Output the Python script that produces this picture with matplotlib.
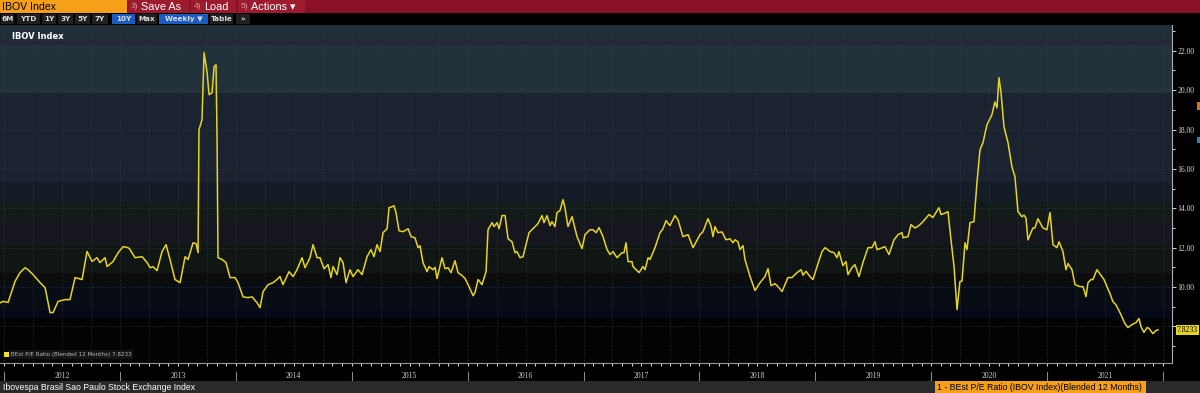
import numpy as np
import matplotlib
matplotlib.use('Agg')
import matplotlib.pyplot as plt
from matplotlib.patches import Rectangle
import matplotlib.transforms as mtransforms

# BEst P/E Ratio (Blended 12 Months), IBOV Index, weekly
dec_year = [2011.965, 2011.991, 2012.035, 2012.095, 2012.138, 2012.181, 2012.207, 2012.250, 2012.311, 2012.354,
            2012.397, 2012.423, 2012.466, 2012.526, 2012.569, 2012.613, 2012.673, 2012.716, 2012.759, 2012.802,
            2012.828, 2012.871, 2012.889, 2012.940, 2012.984, 2013.027, 2013.070, 2013.087, 2013.130, 2013.191,
            2013.234, 2013.260, 2013.286, 2013.320, 2013.363, 2013.398, 2013.432, 2013.475, 2013.519, 2013.562,
            2013.588, 2013.631, 2013.657, 2013.674, 2013.682, 2013.708, 2013.726, 2013.752, 2013.769, 2013.795,
            2013.812, 2013.829, 2013.838, 2013.846, 2013.881, 2013.915, 2013.950, 2013.993, 2014.019, 2014.062,
            2014.105, 2014.140, 2014.183, 2014.209, 2014.235, 2014.278, 2014.321, 2014.355, 2014.381, 2014.407,
            2014.459, 2014.494, 2014.528, 2014.571, 2014.597, 2014.640, 2014.666, 2014.701, 2014.726, 2014.761,
            2014.796, 2014.821, 2014.839, 2014.873, 2014.899, 2014.925, 2014.951, 2014.985, 2015.011, 2015.054,
            2015.089, 2015.132, 2015.166, 2015.192, 2015.218, 2015.244, 2015.270, 2015.305, 2015.322, 2015.348,
            2015.365, 2015.382, 2015.408, 2015.443, 2015.486, 2015.512, 2015.546, 2015.572, 2015.589, 2015.615,
            2015.650, 2015.667, 2015.701, 2015.719, 2015.736, 2015.779, 2015.805, 2015.831, 2015.857, 2015.891,
            2015.917, 2015.952, 2015.978, 2016.012, 2016.047, 2016.064, 2016.090, 2016.124, 2016.159, 2016.176,
            2016.211, 2016.228, 2016.254, 2016.271, 2016.297, 2016.323, 2016.349, 2016.383, 2016.409, 2016.426,
            2016.452, 2016.478, 2016.530, 2016.581, 2016.607, 2016.642, 2016.659, 2016.685, 2016.711, 2016.728,
            2016.754, 2016.771, 2016.797, 2016.823, 2016.840, 2016.866, 2016.901, 2016.944, 2016.987, 2017.013,
            2017.056, 2017.082, 2017.108, 2017.134, 2017.168, 2017.203, 2017.229, 2017.255, 2017.289, 2017.332,
            2017.349, 2017.367, 2017.384, 2017.418, 2017.427, 2017.479, 2017.513, 2017.531, 2017.557, 2017.574,
            2017.617, 2017.660, 2017.686, 2017.712, 2017.746, 2017.789, 2017.815, 2017.858, 2017.902, 2017.945,
            2018.005, 2018.031, 2018.074, 2018.100, 2018.117, 2018.134, 2018.160, 2018.195, 2018.229, 2018.264,
            2018.290, 2018.307, 2018.333, 2018.350, 2018.376, 2018.393, 2018.437, 2018.480, 2018.523, 2018.566,
            2018.592, 2018.618, 2018.652, 2018.678, 2018.713, 2018.738, 2018.764, 2018.799, 2018.842, 2018.877,
            2018.894, 2018.920, 2018.954, 2018.980, 2019.015, 2019.058, 2019.084, 2019.127, 2019.161, 2019.187,
            2019.204, 2019.238, 2019.265, 2019.282, 2019.316, 2019.342, 2019.377, 2019.411, 2019.455, 2019.489,
            2019.515, 2019.532, 2019.558, 2019.601, 2019.636, 2019.679, 2019.714, 2019.748, 2019.757, 2019.800,
            2019.826, 2019.860, 2019.877, 2019.903, 2019.929, 2019.981, 2020.015, 2020.041, 2020.067, 2020.085,
            2020.119, 2020.145, 2020.171, 2020.197, 2020.223, 2020.248, 2020.266, 2020.292, 2020.309, 2020.335,
            2020.369, 2020.395, 2020.421, 2020.447, 2020.481, 2020.524, 2020.550, 2020.568, 2020.585, 2020.602,
            2020.628, 2020.663, 2020.697, 2020.723, 2020.749, 2020.783, 2020.801, 2020.818, 2020.835, 2020.878,
            2020.895, 2020.921, 2020.964, 2020.999, 2021.025, 2021.051, 2021.085, 2021.103, 2021.137, 2021.163,
            2021.180, 2021.215, 2021.241, 2021.284, 2021.310, 2021.336, 2021.353, 2021.379, 2021.396, 2021.430,
            2021.448, 2021.491, 2021.517, 2021.543, 2021.568, 2021.594, 2021.629, 2021.672, 2021.698, 2021.732,
            2021.767, 2021.793, 2021.810, 2021.836, 2021.862, 2021.879, 2021.914, 2021.939, 2021.957]

pe_ratio = [9.19, 9.27, 9.22, 10.29, 10.73, 10.98, 10.88, 10.63, 10.22, 9.97,
            8.70, 8.70, 9.27, 9.36, 9.36, 10.48, 10.38, 11.81, 11.30, 11.49,
            11.24, 11.49, 11.04, 11.29, 11.74, 12.05, 12.00, 11.90, 11.49, 11.54,
            11.24, 10.98, 11.03, 10.83, 11.80, 12.15, 11.40, 10.38, 10.22, 11.54,
            11.40, 12.25, 12.20, 11.74, 17.99, 18.50, 21.90, 20.88, 19.77, 19.87,
            21.19, 21.29, 17.50, 11.49, 11.40, 11.24, 10.48, 10.48, 10.22, 9.50,
            9.46, 9.50, 9.20, 8.95, 9.77, 10.12, 10.22, 10.38, 10.53, 10.12,
            10.78, 10.53, 10.88, 11.49, 10.98, 11.49, 12.15, 11.49, 11.49, 10.93,
            11.14, 10.48, 11.04, 10.63, 11.49, 11.24, 10.22, 10.88, 10.53, 10.88,
            10.63, 11.54, 11.90, 11.54, 12.15, 11.80, 12.76, 12.96, 14.03, 14.08,
            14.13, 13.78, 12.86, 12.81, 12.96, 12.56, 12.50, 12.00, 12.10, 11.24,
            10.78, 11.04, 10.88, 11.00, 10.43, 11.49, 10.93, 10.98, 10.73, 11.34,
            10.73, 10.58, 10.43, 10.02, 9.56, 9.72, 10.38, 10.12, 10.78, 12.91,
            13.27, 13.07, 13.27, 12.96, 13.63, 13.63, 12.45, 12.30, 11.74, 11.80,
            11.49, 11.54, 12.76, 13.07, 13.22, 13.63, 13.27, 13.63, 13.12, 13.32,
            13.07, 13.78, 13.88, 14.44, 14.03, 13.07, 13.58, 12.56, 11.95, 12.66,
            12.91, 12.91, 12.76, 13.02, 12.56, 11.90, 11.65, 11.80, 11.49, 11.74,
            11.74, 12.25, 11.29, 11.29, 11.04, 10.73, 11.04, 10.88, 11.49, 11.40,
            12.00, 12.76, 12.96, 13.37, 13.12, 13.63, 13.42, 12.56, 12.66, 12.00,
            12.66, 12.81, 13.47, 13.10, 12.56, 13.07, 12.76, 12.80, 12.40, 12.45,
            12.25, 12.40, 12.30, 11.90, 12.10, 11.40, 10.53, 9.82, 10.22, 10.53,
            10.93, 10.07, 10.17, 10.02, 9.77, 10.12, 10.48, 10.48, 10.73, 10.88,
            10.60, 10.80, 10.53, 10.38, 11.04, 11.80, 12.00, 11.80, 11.75, 11.49,
            11.80, 11.09, 11.29, 10.63, 10.98, 11.14, 10.53, 11.24, 12.00, 12.00,
            12.30, 11.90, 11.95, 12.05, 11.65, 12.40, 12.66, 12.76, 12.50, 12.56,
            13.17, 13.00, 13.05, 13.17, 13.32, 13.68, 13.53, 13.78, 14.03, 13.68,
            13.75, 13.83, 12.40, 11.04, 8.85, 10.28, 10.30, 12.25, 11.90, 13.27,
            13.32, 15.30, 16.97, 17.33, 18.24, 18.75, 19.40, 19.10, 20.63, 19.92,
            18.14, 17.33, 16.10, 15.60, 13.83, 13.57, 13.65, 13.50, 12.40, 13.00,
            13.00, 13.47, 13.00, 12.91, 13.78, 12.15, 12.00, 12.30, 11.80, 10.88,
            11.19, 10.88, 10.12, 10.02, 10.02, 9.51, 10.22, 10.38, 10.38, 10.88,
            10.73, 10.38, 10.02, 9.66, 9.26, 9.10, 8.70, 8.14, 7.94, 8.09,
            8.19, 8.40, 7.99, 7.69, 7.94, 7.90, 7.63, 7.79, 7.8233]

last_value = 7.8233
years = list(range(2012, 2022))
y_ticks = [8, 10, 12, 14, 16, 18, 20, 22]

# background bands (value ranges) like the terminal chart
band_lo = [22.56, 22.30, 19.87, 15.35, 14.33, 13.31, 12.15, 10.73, 10.22, 8.85, 8.44, 6.0]
band_hi = [24.00, 22.56, 22.30, 19.87, 15.35, 14.33, 13.31, 12.15, 10.73, 10.22, 8.85, 8.44]
band_col = ['#222e37', '#242839', '#22323b', '#1b2330', '#151c27', '#131a1a',
            '#16161f', '#0f1613', '#0c0c0c', '#070c15', '#050818', '#030303']

W, H = 1200, 393
fig = plt.figure(figsize=(W / 100, H / 100), dpi=100, facecolor='black')

ax = fig.add_axes([0, 30 / H, 1172 / W, 338 / H])
ax.set_facecolor('black')
ax.set_xlim(2011.965, 2022.078)
ax.set_ylim(6.14, 23.31)

for lo, hi, c in zip(band_lo, band_hi, band_col):
    ax.axhspan(lo, hi, color=c, lw=0, zorder=0)

# dotted grid: quarters and every 2 units
for q in np.arange(2012, 2022.01, 0.25):
    ax.axvline(q, color='#34373c', lw=0.6, ls=(0, (1, 2)), zorder=1)
for v in y_ticks:
    ax.axhline(v, color='#34373c', lw=0.6, ls=(0, (1, 2)), zorder=1)

ax.plot(dec_year, pe_ratio, color='#e6d422', lw=1.1, zorder=3)

# axes styling
for s in ['top', 'left']:
    ax.spines[s].set_visible(False)
ax.spines['right'].set_color('#b0b0b0')
ax.spines['bottom'].set_color('#9a9a9a')
ax.spines['right'].set_linewidth(0.8)
ax.spines['bottom'].set_linewidth(0.8)

ax.yaxis.tick_right()
ax.set_yticks(y_ticks)
# the 8.00 label sits under the last-value tag in the terminal view
ax.set_yticklabels(['' if v == 8 else '%.2f' % v for v in y_ticks], fontsize=5.5,
                   color='#d8d8d8', family='Liberation Serif')
ax.set_yticks(range(7, 24, 2), minor=True)
ax.tick_params(axis='y', which='major', length=3, width=0.7, colors='#d8d8d8', pad=1)
ax.tick_params(axis='y', which='minor', length=2, width=0.7, color='#d8d8d8')

months = [y + m / 12 for y in range(2012, 2022) for m in range(12)] + [2022]
ax.set_xticks(months)
ax.tick_params(axis='x', length=2.5, width=0.7, colors='#dddddd', labelbottom=False)

# last value tag
trans = mtransforms.blended_transform_factory(ax.transAxes, ax.transData)
ax.text(1.004, last_value, '%.4f' % last_value, transform=trans, fontsize=5.5,
        color='black', va='center', ha='left', family='Liberation Serif', clip_on=False,
        zorder=6, bbox=dict(boxstyle='square,pad=0.15', fc='#e6d422', ec='none'))

# legend box in the lower-left corner
ax.text(0.009, 0.025, 'BEst P/E Ratio (Blended 12 Months) %.4f' % last_value,
        transform=ax.transAxes, fontsize=4.1, color='#b8b8b8', va='center', ha='left',
        zorder=5, bbox=dict(boxstyle='square,pad=0.3', fc='#141414', ec='none'))

ax.text(0.0102, 0.965, 'IBOV Index', transform=ax.transAxes, fontsize=6,
        color='white', fontweight='bold', va='center', ha='left', zorder=5)

# year strip below the chart
axb = fig.add_axes([0, 12 / H, 1172 / W, 18 / H])
axb.set_xlim(ax.get_xlim())
axb.set_ylim(0, 1)
axb.axis('off')
for y in years + [2022]:
    axb.plot([y, y], [0, 0.5], color='#8a8a8a', lw=0.8)
for y in years:
    axb.text(y + 0.5, 0.27, str(y), fontsize=5.5, color='#cfcfcf', ha='center', va='center',
             family='Liberation Serif')

# terminal chrome (header rows and footer), pixel coordinates
sans = ['Liberation Sans', 'DejaVu Sans']
ui = fig.add_axes([0, 0, 1, 1])
ui.set_xlim(0, W)
ui.set_ylim(H, 0)
ui.axis('off')

ui.add_patch(Rectangle((0, 0), 127, 13, fc='#f6a01a', ec='none'))
ui.text(2, 6.8, 'IBOV Index', fontsize=7.6, color='black', va='center', ha='left', family=sans)
ui.add_patch(Rectangle((127, 0), W - 127, 13, fc='#8a1125', ec='none'))
for x0, x1, num, lab in [(128, 189, '3)', 'Save As'), (191, 236, '4)', 'Load'),
                         (238, 305, '5)', 'Actions \u25be')]:
    ui.add_patch(Rectangle((x0, 0), x1 - x0, 13, fc='#9c1b2e', ec='none'))
    ui.text(x0 + 3, 6.8, num, fontsize=6, color='#d99aa3', va='center', ha='left', family=sans)
    ui.text(x0 + 13, 6.8, lab, fontsize=7.8, color='white', va='center', ha='left', family=sans)

buttons = [(1, 14, '6M', '#202020'), (17, 40, 'YTD', '#202020'), (42, 56, '1Y', '#202020'),
           (58, 73, '3Y', '#202020'), (75, 90, '5Y', '#202020'), (92, 108, '7Y', '#202020'),
           (112, 135, '10Y', '#1b5cc0'), (137, 157, 'Max', '#202020'),
           (159, 208, 'Weekly \u25bc', '#1b5cc0'), (210, 233, 'Table', '#202020'),
           (236, 250, '\u00bb', '#202020')]
for x0, x1, lab, c in buttons:
    ui.add_patch(Rectangle((x0, 14), x1 - x0, 10, fc=c, ec='none'))
    ui.text((x0 + x1) / 2, 19.2, lab, fontsize=5.2, color='#dcdcdc', va='center',
            ha='center', fontweight='bold')

# legend square
ui.add_patch(Rectangle((4, 351.5), 5, 5, fc='#f2dc1c', ec='none', zorder=6))

# right edge markers
ui.add_patch(Rectangle((1197, 102), 3, 8, fc='#c27a1c', ec='none'))
ui.add_patch(Rectangle((1197, 137), 3, 6, fc='#3a7fb3', ec='none'))

# footer
ui.add_patch(Rectangle((0, 381), W, 12, fc='#2a2a2a', ec='none'))
ui.text(3, 387.3, 'Ibovespa Brasil Sao Paulo Stock Exchange Index', fontsize=6.3,
        color='white', va='center', ha='left', family=sans)
ui.add_patch(Rectangle((935, 381), 211, 12, fc='#f6a01a', ec='none'))
ui.text(937, 387.3, '1 - BEst P/E Ratio (IBOV Index)(Blended 12 Months)', fontsize=6.3,
        color='black', va='center', ha='left', family=sans)

fig.savefig('out.png', dpi=100, facecolor='black')
